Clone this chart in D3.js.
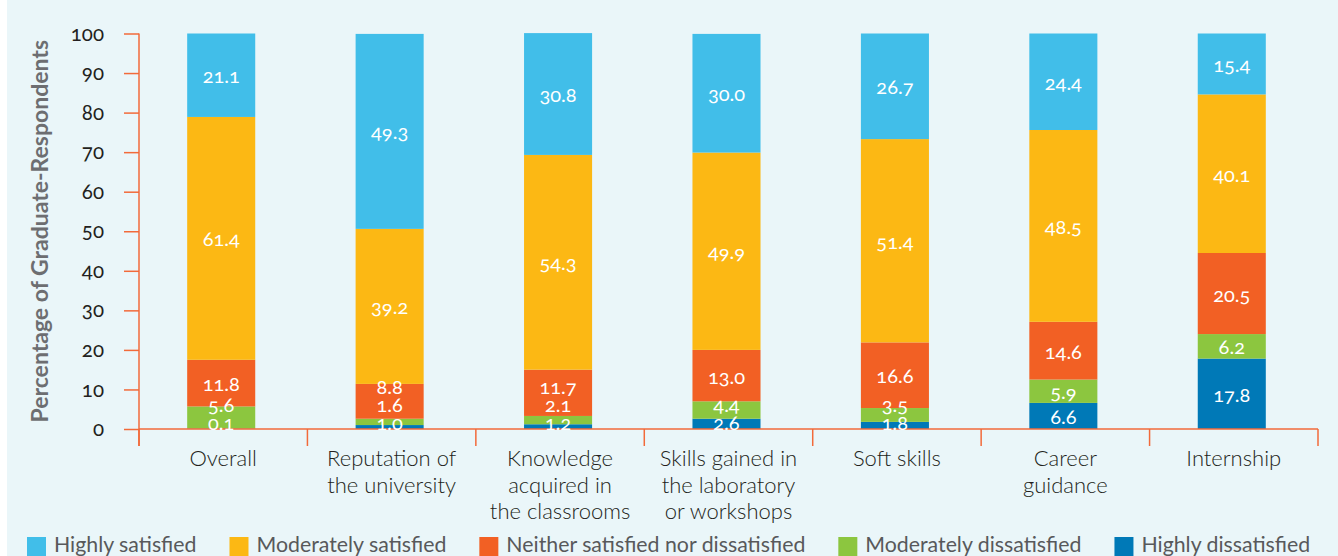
<!DOCTYPE html>
<html>
<head>
<meta charset="utf-8">
<script src="https://cdn.jsdelivr.net/npm/d3@7"></script>
<style>
  html, body { margin: 0; padding: 0; background: #ffffff; }
  svg { display: block; font-family: "Lato", "Open Sans", sans-serif; }
  .num { font-variant-numeric: oldstyle-nums; font-feature-settings: "onum" 1; }
</style>
</head>
<body>
<svg id="chart" width="1338" height="556"></svg>
<script>
// Survey categories (multi-line labels) and satisfaction shares (%)
const categories = [
  ["Overall"],
  ["Reputation of", "the university"],
  ["Knowledge", "acquired in", "the classrooms"],
  ["Skills gained in", "the laboratory", "or workshops"],
  ["Soft skills"],
  ["Career", "guidance"],
  ["Internship"]
];
const highlySatisfied        = [21.1, 49.3, 30.8, 30.0, 26.7, 24.4, 15.4];
const moderatelySatisfied    = [61.4, 39.2, 54.3, 49.9, 51.4, 48.5, 40.1];
const neitherSatisfied       = [11.8,  8.8, 11.7, 13.0, 16.6, 14.6, 20.5];
const moderatelyDissatisfied = [ 5.6,  1.6,  2.1,  4.4,  3.5,  5.9,  6.2];
const highlyDissatisfied     = [ 0.1,  1.0,  1.2,  2.6,  1.8,  6.6, 17.8];

const seriesNames = ["Highly satisfied", "Moderately satisfied", "Neither satisfied nor dissatisfied",
                     "Moderately dissatisfied", "Highly dissatisfied"];
const yTicks = [0, 10, 20, 30, 40, 50, 60, 70, 80, 90, 100];
const yTitle = "Percentage of Graduate-Respondents";

const colors = {
  "Highly satisfied": "#41bee9",
  "Moderately satisfied": "#fcb814",
  "Neither satisfied nor dissatisfied": "#f26024",
  "Moderately dissatisfied": "#8cc63f",
  "Highly dissatisfied": "#0079b7"
};

const seriesValues = {
  "Highly satisfied": highlySatisfied,
  "Moderately satisfied": moderatelySatisfied,
  "Neither satisfied nor dissatisfied": neitherSatisfied,
  "Moderately dissatisfied": moderatelyDissatisfied,
  "Highly dissatisfied": highlyDissatisfied
};

// rows for d3.stack
const rows = categories.map((c, i) => {
  const r = { key: i };
  seriesNames.forEach(s => r[s] = seriesValues[s][i]);
  return r;
});
const stackOrder = seriesNames.slice().reverse(); // bottom → top
const stacked = d3.stack().keys(stackOrder)(rows);

const svg = d3.select("#chart");
const W = 1338, H = 556;

// panel background
svg.append("rect").attr("x", 7).attr("y", 0).attr("width", W - 7).attr("height", H)
  .attr("fill", "#eaf6f9");

const plot = { left: 139, right: 1318, top: 33.5, bottom: 429 };
const axisColor = "#f26a3a";

const x = d3.scaleBand()
  .domain(d3.range(categories.length))
  .range([plot.left, plot.right])
  .paddingInner(0.596)
  .paddingOuter(0.298)
  .align(0.48);

const y = d3.scaleLinear().domain([0, 100]).range([plot.bottom, plot.top]);

// bars
const layers = svg.append("g").selectAll("g")
  .data(stacked).join("g")
  .attr("fill", d => colors[d.key]);

layers.selectAll("rect")
  .data(d => d.map(v => ({ v, i: v.data.key })))
  .join("rect")
  .attr("x", d => x(d.i))
  .attr("width", x.bandwidth())
  .attr("y", d => y(d.v[1]))
  .attr("height", d => y(d.v[0]) - y(d.v[1]));

// y axis
const yAxis = svg.append("g").attr("transform", `translate(${plot.left},0)`)
  .call(d3.axisLeft(y).tickValues(yTicks).tickSize(15).tickPadding(20).tickFormat(d3.format("d")));
yAxis.select(".domain").remove();
yAxis.selectAll(".tick line").attr("stroke", axisColor).attr("stroke-width", 1.5);
yAxis.selectAll(".tick text")
  .attr("class", "num")
  .attr("fill", "#231f20")
  .attr("font-size", 20.5)
  .attr("font-family", "Lato, sans-serif");
svg.append("line")
  .attr("x1", plot.left).attr("x2", plot.left)
  .attr("y1", plot.top).attr("y2", plot.bottom + 17)
  .attr("stroke", axisColor).attr("stroke-width", 1.5);

// x axis baseline and category separators
svg.append("line")
  .attr("x1", plot.left).attr("x2", plot.right)
  .attr("y1", plot.bottom).attr("y2", plot.bottom)
  .attr("stroke", axisColor).attr("stroke-width", 1.5);
svg.append("g").selectAll("line")
  .data(d3.range(categories.length + 1))
  .join("line")
  .attr("x1", i => plot.left + i * x.step())
  .attr("x2", i => plot.left + i * x.step())
  .attr("y1", plot.bottom).attr("y2", plot.bottom + 17)
  .attr("stroke", axisColor).attr("stroke-width", 1.5);

// category labels
const catG = svg.append("g").selectAll("text")
  .data(categories).join("text")
  .attr("x", (d, i) => plot.left + (i + 0.5) * x.step())
  .attr("y", 466)
  .attr("text-anchor", "middle")
  .attr("font-size", 22)
  .attr("font-weight", 300)
  .attr("fill", "#231f20");
catG.selectAll("tspan")
  .data(d => d)
  .join("tspan")
  .attr("x", function () { return this.parentNode.getAttribute("x"); })
  .attr("dy", (d, j) => j === 0 ? 0 : 26.5)
  .text(d => d);

// y-axis title
svg.append("text")
  .attr("transform", `translate(48,${(plot.top + plot.bottom) / 2}) rotate(-90)`)
  .attr("text-anchor", "middle")
  .attr("font-size", 23)
  .attr("font-weight", 700)
  .attr("fill", "#6d6e71")
  .text(yTitle);

// value labels: centred in each segment, small stacked ones nudged apart from the bottom up
const labelData = [];
categories.forEach((c, i) => {
  let prev = null;
  stacked.forEach(layer => {
    const v = layer[i];
    let cy = (y(v[0]) + y(v[1])) / 2;
    if (prev === null) cy = Math.min(cy, plot.bottom - 7);
    else cy = Math.min(cy, prev - 18);
    prev = cy;
    labelData.push({ i, cy, val: seriesValues[layer.key][i] });
  });
});
svg.append("g").selectAll("text")
  .data(labelData).join("text")
  .attr("class", "num")
  .attr("x", d => x(d.i) + x.bandwidth() / 2)
  .attr("y", d => d.cy)
  .attr("dominant-baseline", "central")
  .attr("text-anchor", "middle")
  .attr("font-size", 20)
  .attr("fill", "#ffffff")
  .text(d => d.val.toFixed(1));

// legend
const legend = svg.append("g");
let lx = 27;
seriesNames.forEach(name => {
  legend.append("rect").attr("x", lx).attr("y", 537).attr("width", 19).attr("height", 19)
    .attr("fill", colors[name]);
  const t = legend.append("text")
    .attr("x", lx + 27).attr("y", 552)
    .attr("font-size", 21.3)
    .attr("fill", "#58595b")
    .text(name);
  lx += 27 + t.node().getComputedTextLength() + 33;
});
</script>
</body>
</html>
